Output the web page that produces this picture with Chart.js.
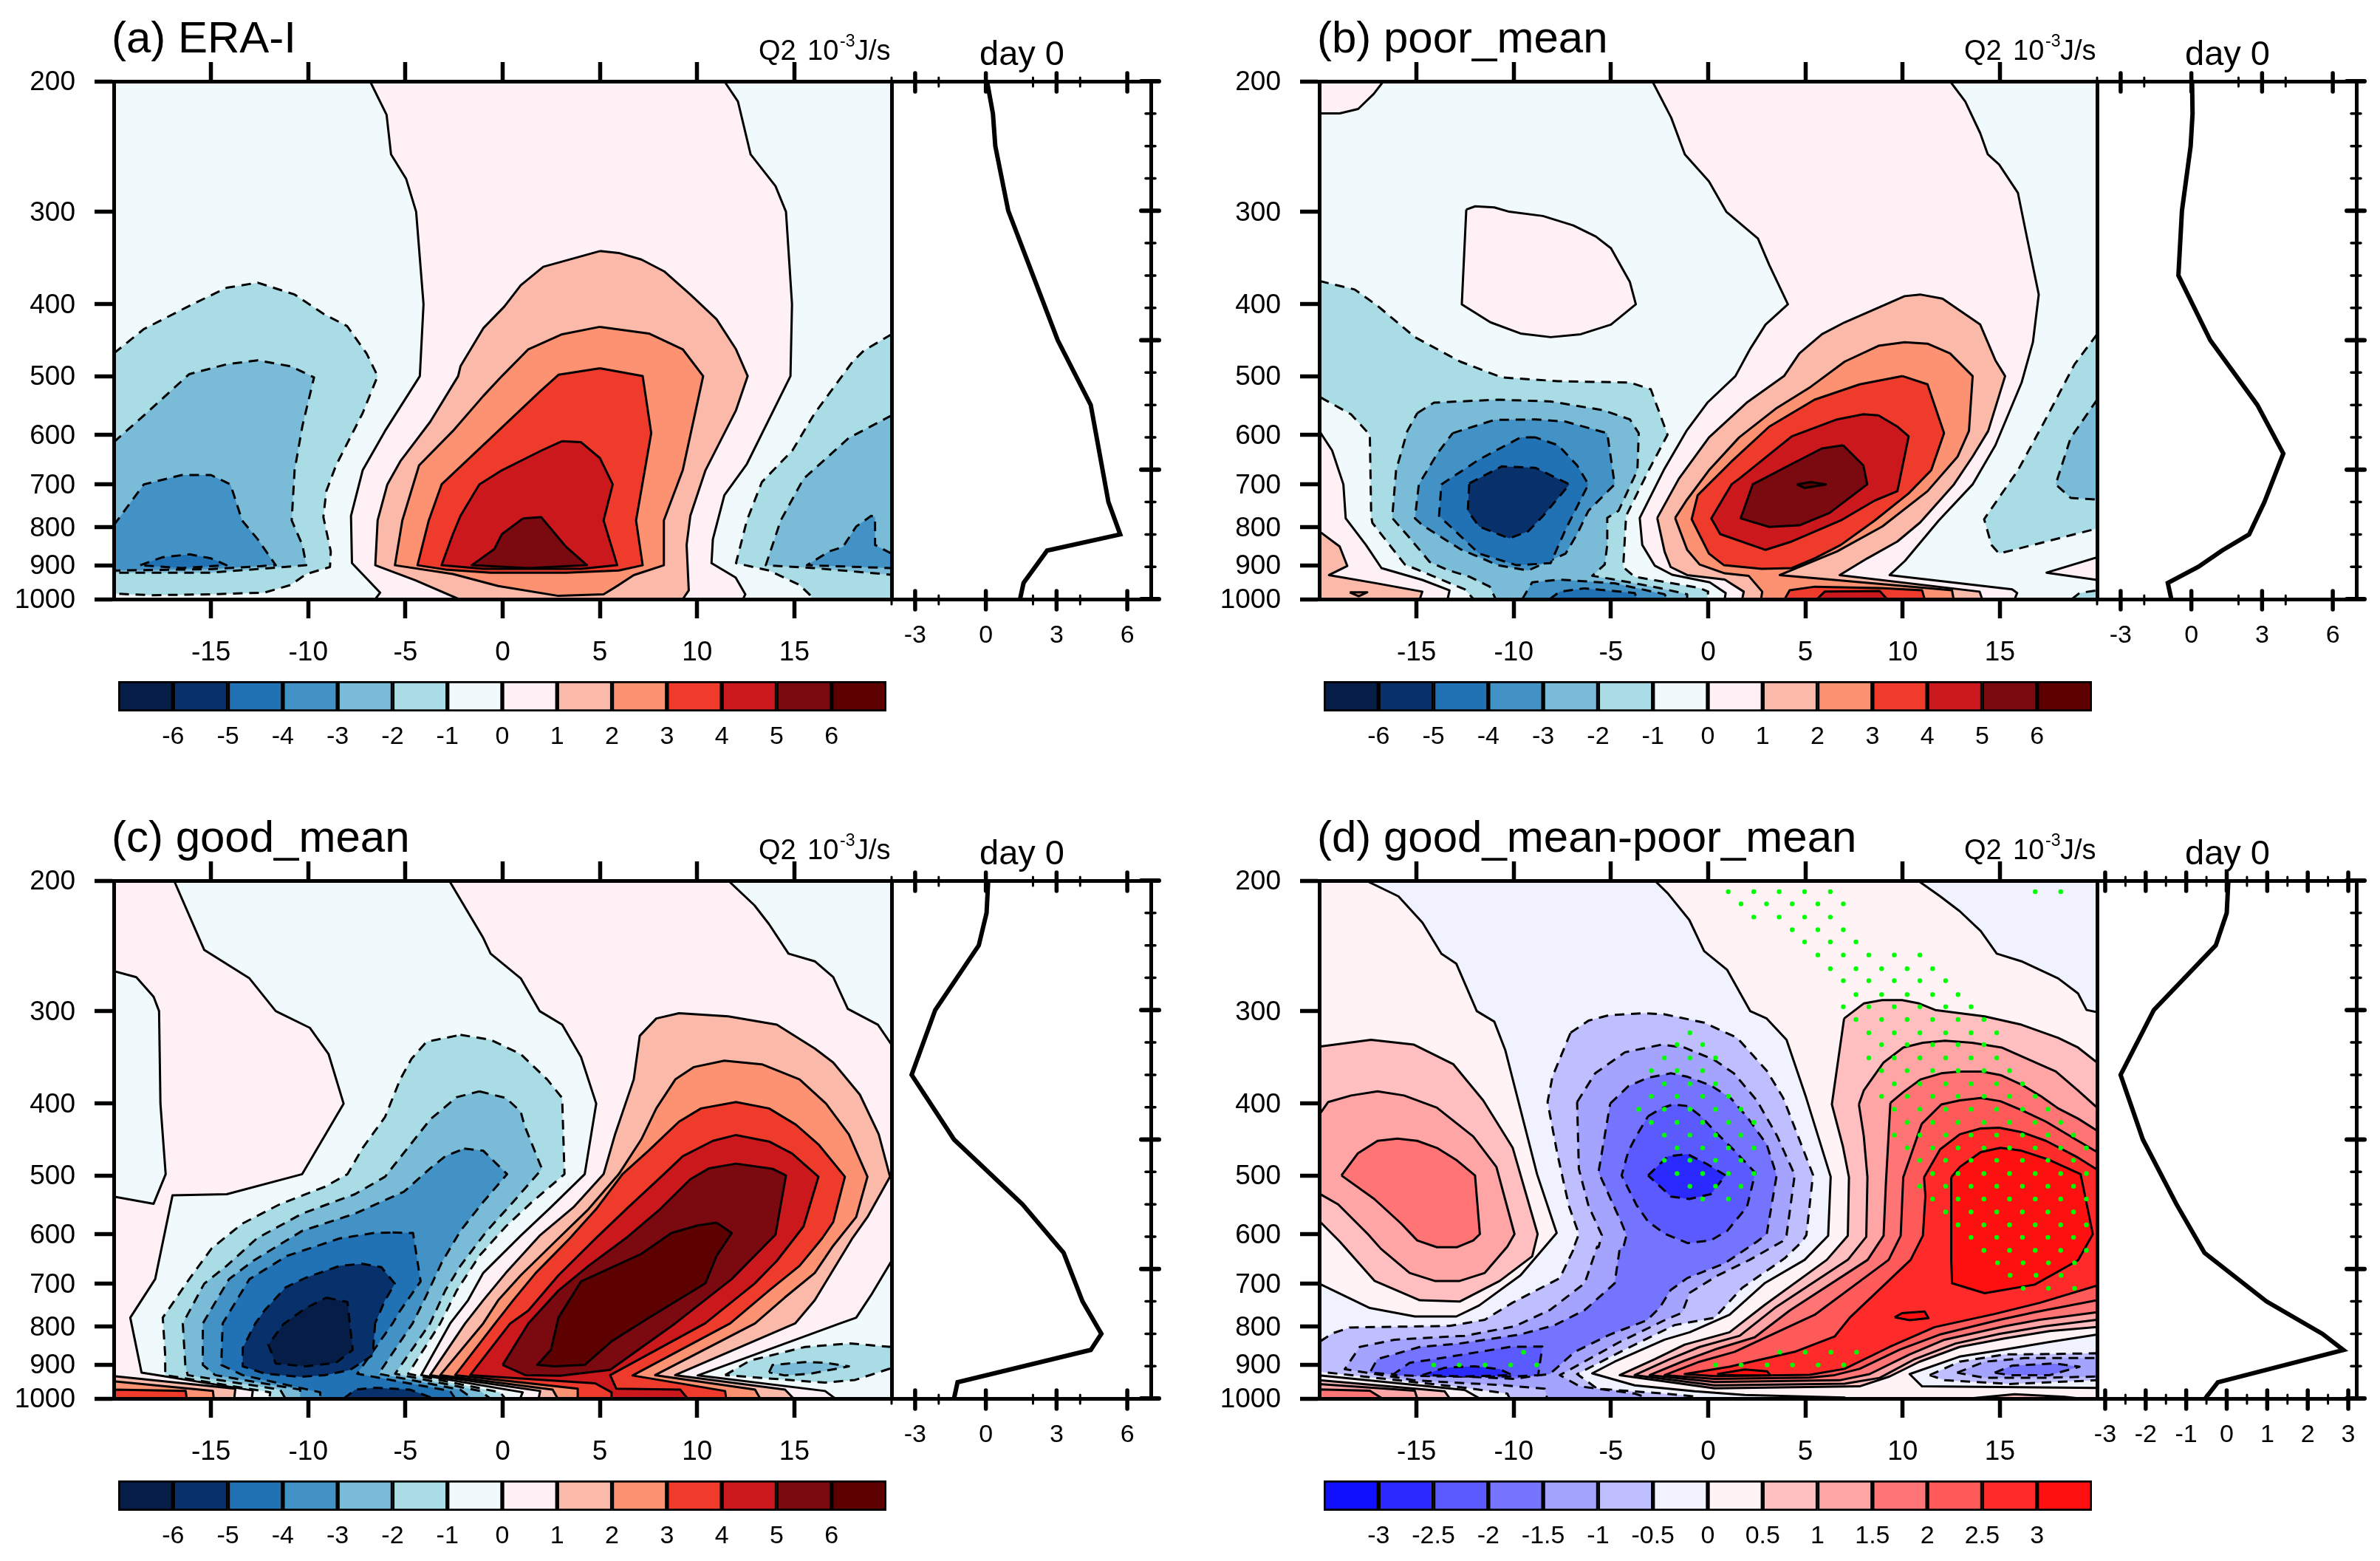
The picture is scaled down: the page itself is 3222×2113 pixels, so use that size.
<!DOCTYPE html>
<html><head><meta charset="utf-8"><style>html,body{margin:0;padding:0;background:#fff}canvas{position:absolute}</style>
<script src="https://cdn.jsdelivr.net/npm/chart.js@4"></script></head><body>
<script>
const dayTicks=[-15,-10,-5,0,5,10,15];
const pressureTicks=[200,300,400,500,600,700,800,900,1000];
const barLabels6=['-6','-5','-4','-3','-2','-1','0','1','2','3','4','5','6'];
const barLabels3=['-3','-2.5','-2','-1.5','-1','-0.5','0','0.5','1','1.5','2','2.5','3'];
const colorsRB=['#051d47','#08306b','#2171b5','#4292c6','#7abbd8','#aadce6','#f0fafd','#fff0f5','#fbb9a9','#fc9272','#ef3b2c','#cb181d','#7a0a10','#5c0000'];
const colorsBWR=['#1010ff','#2a2aff','#5a5aff','#7474ff','#a4a4ff','#bfbfff','#f0f3ff','#fff3f5','#ffbfc0','#ffa5a5','#ff7474','#ff5a5a','#ff2a2a','#ff1010'];

// profile panels: pressure levels and Q2 at day 0
const profLevA=[200,250,300,400,500,600,700,850,900,925,975,1000];
const profValA=[.05,.3,.4,.95,2,3.05,4.45,5.2,5.7,2.6,1.6,1.45];
const profLevB=[200,250,300,400,500,600,700,775,850,900,925,950,975,1000];
const profValB=[.03,.05,-.03,-.4,-.55,.8,2.8,3.9,3.1,2.45,1.3,.3,-1,-.85];
const profLevC=[200,250,300,400,500,600,700,775,850,900,925,975,1000];
const profValC=[.1,.03,-.3,-2.15,-3.15,-1.35,1.55,3.3,4.1,4.9,4.45,-1.2,-1.35];
const profLevD=[200,250,300,400,500,600,700,775,850,900,925,975,1000];
const profValD=[.04,0,-.27,-1.8,-2.62,-2.07,-1.24,-.55,.98,2.36,2.88,-.22,-.53];

// contour outlines as day,hPa pairs
const A_p0=[-6.82,200,-5.97,222,-5.74,251,-4.96,271,-4.45,300,-4.07,400,-4.26,500,-6.05,593,-7.2,670,-7.8,772,-7.75,894,-6.3,980,-6.55,1000,12.36,1000,12.48,985,11.98,935,10.74,894,10.81,830,11.4,724,12.56,657,14.8,500,14.88,400,14.57,300,14.03,277,12.75,251,12.1,213,11.4,200];
const A_p1=[5,339,5.97,341,7.13,348,8.3,361,9.65,388,11,419,12,460,12.6,500,12,556,10.43,670,9.65,772,9.46,845,9.57,973,9.26,1000,-2.25,1000,-4.5,943,-6.55,900,-6.43,783,-5.93,700,-5.27,652,-3.72,576,-2.29,500,-2.17,485,-1,431,.08,403,.93,377,2.09,356];
const A_p2=[5,429,7.52,438,9.26,460,10.31,500,9.26,670,8.29,783,8.29,900,6.74,928,5.97,957,5.19,985,2.87,990,-.23,960,-2.56,925,-5.54,900,-5.16,783,-4.3,660,-2.56,593,-1,532,-.04,500,1.32,460,3.06,439];
const A_p3=[5,488,7.2,500,7.64,597,6.86,783,7.2,900,5.97,915,3.26,921,-.62,921,-2.95,912,-4.38,900,-3.8,783,-3.14,700,-.23,593,1.9,525,2.87,498];
const A_p4=[3.06,612,4.03,614,5,645,5.66,700,5.19,783,5.89,900,4.03,910,-1,910,-3.14,900,-2.56,817,-2.17,772,-1.2,700,-.04,670,2,630];
const A_p5=[1.05,778,1.98,775,3.26,850,4.34,900,1.32,908,-1.59,900,-.43,856,-.04,817];
const A_n1=[-20,466,-18.45,432,-16.12,402,-14.2,380,-12.6,374,-10.7,388,-9.15,413,-8,428,-7,466,-6.43,500,-7.2,561,-8.57,660,-9.07,715,-9.22,775,-8.84,862,-8.88,905,-10.1,925,-10.9,957,-12.25,980,-15,985,-18.06,988,-20,983];
const A_n2=[-20,614,-18.45,565,-16.12,497,-14.2,482,-12.6,476,-10.9,485,-9.7,502,-10.3,584,-10.7,670,-10.85,783,-10.3,845,-10.1,900,-15,921,-20,921];
const A_n3=[-20,795,-18.45,700,-16.5,680,-15,680,-14,700,-13.4,783,-12.6,830,-11.67,900,-15,911,-20,915];
const A_n4=[-18.64,900,-17.5,878,-16.1,870,-15,881,-14.2,900,-16.5,908];
const A_rn1=[20,439,18.57,462,18,478,16.05,561,14.9,630,13.33,695,12.56,783,12,894,13.7,915,15.27,957,15.85,990,15.85,1000,20,1000];
const A_rn2=[20,565,17.8,606,15.47,688,14.3,783,13.53,900,16,908,20,927];
const A_rn3=[20,868,19.15,845,19.15,775,18.95,772,18.18,798,17.5,850,16.8,862,15.65,900,20,908];

const B_p0a=[-20,200,-16.7,200,-17.2,208,-18,218,-18.95,221,-20,221];
const B_p0b=[-12.44,298,-11.98,295,-11,296,-10.23,300,-8.5,304,-6.94,313,-5.78,324,-5,336,-4.03,373,-3.72,400,-5,426,-6.55,439,-8.1,443,-9.65,438,-11.2,423,-12.67,400];
const B_p0c=[-2.87,200,-1.9,224,-1.2,251,.04,273,.93,300,2.56,326,3.14,354,4.1,400,2.95,426,2.17,459,1.4,500,-.04,543,-1.12,593,-2.29,670,-3.52,777,-3.39,845,-2.75,901,-1.85,927,.08,949,.9,981,.85,1000,15.76,1000,15.89,981,15.63,970,9.33,928,10.12,888,11.86,783,13.6,700,14.77,620,16.12,510,16.7,450,17,388,16.32,318,15.93,283,14.96,259,14.38,251,13.99,235,13.22,213,12.44,200];
const B_p0d=[-20,593,-19.34,630,-18.76,700,-18.64,778,-17.6,845,-16.8,908,-14.7,942,-13.3,973,-13.4,1000,-20,1000];
const B_p0e=[20,878,17.4,921,20,942];
const B_p1=[-2.62,777,-2.24,863,-1.93,905,-1.08,928,.85,941,1.83,977,1.75,1000,14.09,1000,13.96,977,6.76,928,8.18,881,9.73,836,10.9,788,12.64,700,13.6,642,14.4,593,15.27,500,14.77,476,13.99,426,12.05,393,10.9,388,10.1,390,9.15,400,7.02,423,5.85,439,4.69,466,3.9,500,1.98,543,.04,605,-1.51,688];
const B_p1b=[-14.83,1000,-14.7,977,-17.15,951,-19.5,928,-18.56,902,-18.95,849,-20,810,-20,1000];
const B_p2=[-1.7,777,-1.08,858,-.44,898,.85,923,2.08,930,2.78,977,2.72,1000,12.62,1000,12.54,973,3.68,928,6.63,862,8.95,798,11.28,715,12.83,642,13.41,593,13.6,500,12.44,466,11.28,452,10.1,450,8.76,455,7.02,478,5.27,517,3.53,552,1.59,605,.04,670,-1.12,736];
const B_p2b=[-18.43,979,-17.53,979,-17.97,991];
const B_p3=[10,500,11.28,513,12.13,597,11.47,670,10.31,720,8.57,783,6.82,845,5.47,881,4.3,908,2.75,910,.81,900,.04,868,-.85,780,-.54,724,1.2,652,3.14,585,5.47,538,7.79,513];
const B_p3b=[3.93,1000,4.19,973,5.48,962,8.82,966,11,973,11.13,1000];
const B_p4=[8.76,565,7.98,563,6.63,572,4.3,603,1.59,688,1.2,700,.16,778,.62,817,2.95,858,4.3,836,6.82,783,8.57,736,9.73,715,10.31,603,9.73,585];
const B_p4b=[5.6,1000,5.99,977,8.82,975,9.2,1000];
const B_p5=[6.94,620,7.98,660,8.18,700,6.24,765,4.69,795,3.14,799,1.67,778,2.29,700,4.3,657,5.85,626];
const B_p6=[4.57,700,5.27,695,6.05,700,4.96,708];
const B_n1=[-20,372,-18.18,382,-17,402,-15.08,443,-12.75,478,-10.62,502,-7.71,508,-4.03,510,-2.95,521,-2.09,600,-3.06,670,-4.22,772,-4.37,905,-3.78,933,-2.24,948,-.44,966,0,977,-.05,1000,-12.06,1000,-12.52,970,-14.06,933,-15.6,898,-17.27,789,-17.33,772,-17.4,600,-18.37,563,-20,533];
const B_n2=[-14.96,561,-14.1,543,-10.81,538,-8.1,541,-5.39,556,-4.03,572,-3.57,597,-3.64,670,-4.61,760,-5.19,777,-5.19,845,-5.32,898,-5.96,930,-4.81,941,-2.49,966,-1.08,985,-1.08,1000,-10.93,1000,-11.23,962,-12.26,933,-13.42,913,-14.32,891,-15.47,820,-16.25,777,-16.05,670,-15.47,593];
const B_n3=[-13.14,597,-11,573,-8.88,572,-7.33,576,-5.19,597,-4.81,700,-6.16,760,-6.74,817,-7.33,868,-9.26,915,-10.81,900,-12.75,856,-14.69,795,-15.08,778,-14.88,700,-13.91,635];
const B_n3b=[-9.56,1000,-9.05,949,-7.63,941,-4.81,952,-2.24,985,-2.11,1000];
const B_n4=[-8.88,605,-9.65,605,-11.78,648,-13.72,700,-13.84,772,-11.78,868,-9.84,900,-8.1,894,-7.33,805,-6.16,700,-6.74,660,-7.71,620];
const B_n4b=[-8.15,1000,-7.63,977,-6.35,967,-3.78,981,-3.65,1000];
const B_n5=[-12.29,698,-10.62,662,-8.88,665,-7.13,700,-8.49,772,-9.26,810,-10.23,828,-11.78,798,-12.36,760];
const B_rn1=[20,439,18.84,482,17.29,576,15.93,670,14.19,780,14.57,845,14.96,868,20,803];
const B_rn2=[20,538,18.64,606,17.87,700,18.64,730,20,734];
const B_rn1b=[18.7,1000,19.1,981,20,973,20,1000];

const C_p0a=[-16.9,200,-15.35,248,-13.02,271,-11.67,300,-9.92,316,-8.95,343,-8.18,400,-10.31,498,-14.19,530,-16.98,532,-17.87,690,-19.15,778,-18.57,923,-12.85,975,-12.9,1000,-20,1000,-20,200];
const C_hole=[-20,265,-18.84,270,-17.95,287,-17.67,300,-17.6,400,-17.33,498,-17.95,546,-20,534];
const C_p0b=[-2.75,200,-1,239,-.62,251,.93,271,1.9,300,3.06,313,4.03,346,4.81,400,4.22,498,2.48,552,.93,603,-1,677,-1.78,737,-2.7,792,-4.19,930,1.03,981,.9,1000,17.1,1000,16.58,977,10.03,931,17.35,792,18.18,778,18.95,725,20,652,20,333,19.3,313,17.75,298,17,270,16.05,257,14.7,251,13.7,229,12.95,216,11.6,200];
const C_p1=[14.96,1000,14.52,973,8.87,930,15.04,792,16.05,737,18,607,18.76,569,19.92,502,19.34,440,18.37,389,17,352,16.05,337,14.1,313,11.6,305,9.07,302,7.9,307,7.05,324,6.74,371,5.78,440,5.19,498,3.64,552,1.9,603,.16,677,-1,737,-1.93,792,-3.73,930,1.93,977,1.85,1000];
const C_p2=[13.24,1000,12.98,973,7.84,930,12.98,792,14.5,731,16.05,677,17,622,18.18,569,18.76,502,17.8,440,16.63,400,15.27,371,13.33,354,11.4,350,9.84,357,8.88,371,7.9,406,7.13,447,5.97,498,4.42,555,2.87,608,.93,682,-.23,737,-1,792,-3.21,930,2.57,973,2.83,1000];
const C_p3=[11.49,1000,11.44,977,6.68,931,11.7,792,13.7,715,15.27,662,16.43,608,17,578,17.6,502,16.24,454,15.08,427,13.7,406,12,398,10.2,406,9.07,423,7.5,463,6.16,498,4.81,555,3.45,608,1.7,677,.54,737,-.39,792,-2.44,930,3.86,970,3.86,1000];
const C_p4=[9.51,1000,9.13,973,5.84,970,5.53,930,10.41,792,12.95,700,14.1,652,15.47,586,16.24,502,14.88,467,13.7,450,12,441,10.81,449,9.26,471,8.29,498,6.36,555,4.81,607,2.87,682,1.32,761,.39,792,-1.67,930,4.76,954,5.6,981,5.6,1000];
const C_p5=[0,901,1.16,930,2.96,932,5.53,915,8.87,792,11.78,690,14.03,601,14.57,500,13.9,490,12,482,10.62,489,9.65,506,8.1,555,6.36,607,4.42,662,2.87,715,1.32,792];
const C_p6=[11,579,10.04,584,8.68,598,7.13,638,4.03,695,2.87,778,2.48,860,1.78,901,2.67,905,4.22,901,5.58,838,7.52,778,10.43,699,11,642,11.78,598];
const C_bl1=[-20,933,-13.75,970,-13.8,1000,-20,1000];
const C_bl2=[-20,948,-14.9,977,-14.86,1000,-20,1000];
const C_bl3=[-20,973,-16.3,977,-16.25,1000,-20,1000];
const C_n1=[-2.17,323,-.62,328,.93,343,2.29,371,3.06,393,3.18,498,1.51,543,.16,586,-1.2,642,-2.36,715,-3.21,792,-4.86,926,-.13,981,.13,1000,-12,1000,-11.95,981,-17.35,930,-17.36,870,-17.48,778,-16.12,690,-14.96,627,-13.4,581,-11.47,547,-9.15,518,-7.98,498,-7.2,459,-6.05,417,-5.27,371,-4.69,348,-3.91,330];
const C_n2=[-1.2,385,.16,393,.93,410,1.12,428,2.02,490,.54,543,-.81,594,-2.17,662,-2.95,715,-3.73,792,-5.53,926,-1.16,977,-.64,1000,-11.18,1000,-11.44,973,-16.2,930,-16.32,901,-16.45,792,-15.35,700,-14.19,662,-12.64,608,-10.31,563,-7.6,530,-6.05,502,-4.88,459,-3.72,420,-2.36,392];
const C_n3=[-1.98,460,-1,463,.23,498,-1,543,-2.17,594,-3.14,656,-3.91,725,-4.63,792,-6.38,926,-2.19,973,-1.54,1000,-10.41,1000,-10.41,973,-14.78,930,-15.42,901,-15.42,792,-14.07,690,-12.83,652,-10.31,594,-7.6,563,-5.08,526,-3.72,489,-2.95,471];
const C_n4=[-5.66,597,-4.61,598,-4.22,695,-5.27,761,-5.66,792,-7.48,926,-2.7,977,-2.44,1000,-9.38,1000,-9.38,981,-13.37,930,-14.47,901,-14.4,792,-13.02,690,-11.09,642,-8.37,608,-6.63,598];
const C_n5=[-6.56,792,-6.68,874,-7.84,915,-9.13,930,-10.41,935,-12.21,926,-13.37,905,-13.37,855,-12.72,792,-12.25,761,-11.16,708,-10.12,687,-8.37,662,-7.2,658,-6.24,665,-5.54,700,-6.05,737];
const C_n6=[-9.07,731,-7.98,741,-7.71,860,-8.57,895,-10.12,905,-11.67,897,-12.05,846,-11.28,794,-10.12,755];
const C_n5b=[-8.17,1000,-7.58,973,-6.56,967,-4.76,973,-3.73,996,-3.73,1000];
const C_rn1=[11.44,930,12.72,889,15.55,852,17.87,843,20,852,20,910,18.12,944,16.58,952,14,941];
const C_rn2=[13.7,922,13.88,901,15.55,893,16.58,895,17.81,905,15.81,926,14.52,931];

const D_p0a=[-17.6,200,-15.93,210,-14.69,228,-13.72,251,-12.95,259,-11.9,300,-11,310,-10.43,339,-9.73,400,-8.8,498,-7.79,598,-9.65,682,-11.78,749,-12.95,775,-15.08,775,-17.4,755,-20,700,-20,200];
const D_p05a=[-20,335,-17.34,328,-15.13,333,-13.1,354,-11.57,396,-10.05,459,-8.77,600,-9.05,643,-10.72,694,-12.78,740,-14.83,737,-17.15,694,-18.95,614,-20,576];
const D_p1a=[-20,414,-19.54,398,-18.36,390,-17,385,-15.64,390,-13.95,405,-12.08,443,-10.89,487,-9.96,600,-10.33,624,-11.49,677,-12.78,694,-14.06,694,-15.35,677,-16.83,628,-17.5,600,-19.03,547,-20,529];
const D_p15a=[-18.86,500,-18.02,467,-17,449,-15.98,446,-14.96,449,-13.95,459,-12.93,477,-11.99,500,-11.74,600,-12.08,612,-12.93,625,-13.95,625,-14.96,612,-15.81,580,-17.17,538];
const D_p0b=[-2.75,200,-2.08,208,-.97,226,-.21,249,.98,264,2.16,300,3.01,307,4.03,328,5.03,392,6.3,502,6.17,603,4.96,650,2.9,699,1.1,771,-.95,814,-2.24,833,-4.81,892,-5.96,925,-3.78,960,-.69,978,1.88,989,7.02,997,7.02,1000,20,1000,20,968,11,963,10.36,927,12.93,878,15.24,859,17.56,839,20,820,20,301,19.46,299,19.02,284,18,271,16.11,257,14.84,251,14.02,234,12.94,220,11.93,210,10.79,200];
const D_p05b=[6.99,307,8,293,8.95,290,9.97,290,10.85,293,11.68,299,14.21,305,16.11,313,18,326,19.02,336,20,352,20,801,17.56,811,15.24,830,12.93,852,10.87,892,9.33,934,7.79,963,.33,969,-4.55,930,-2.75,885,-1.21,846,1.1,814,2.9,748,6.1,650,7.18,603,7.24,503,6.93,457,6.36,401];
const D_p1b=[7.75,401,8,384,9.02,352,10.03,336,11.04,331,12.18,329,13.57,331,15.09,336,16.61,350,17.88,362,19.02,384,20,405,20,783,17.3,799,14.99,818,12.72,843,10.62,885,8.82,938,7.02,955,.33,960,-3.78,930,-1.98,885,-.44,852,1.62,823,3.42,755,7.18,650,8.13,605,8.19,503,8,442];
const D_p15b=[9.37,399,10.03,386,10.92,371,11.99,364,12.94,362,14.08,362,15.03,366,16.11,377,17.12,391,18,406,19.02,419,20,435,20,765,17.04,783,15.24,799,12.16,833,10.36,872,8.3,927,6.76,945,.33,950,-3.01,930,-1.21,889,.33,859,2.39,827,4.19,761,8.2,650,9.02,603,9.14,512];
const D_p2b=[10.98,426,11.99,401,12.94,396,14.02,393,15.03,397,16.11,408,17.37,423,19.02,449,20,465,20,737,16.79,765,14.99,783,11.9,820,9.85,859,7.79,912,6.5,930,5.22,937,.33,941,-2.24,930,-.44,892,1.36,865,5.48,771,9.28,650,9.9,603,10.03,503];
const D_p25b=[11.1,503,11.93,461,12.94,440,14.02,432,14.97,431,16.11,437,17.37,449,19.02,473,20,491,20,704,17.04,743,14.73,769,11.65,801,9.33,852,7.02,912,5.22,929,.33,933,-1.21,927,1.1,906,4.45,865,6.5,825,7.28,778,10.41,650,11.04,603,11.17,533];
const D_p3b=[12.5,503,12.94,487,14.02,465,15.03,459,16.11,463,17.5,476,19.15,498,19.78,600,19.02,651,16.79,702,14.22,721,12.54,699,12.5,650];
const D_p3c=[9.59,777,9.97,767,11.13,763,11.33,779,10.36,784];
const D_p3d=[.46,927,1.88,914,3.03,919,3.21,931,1.36,931];
const D_bl0=[-20,931,-12.52,974,-11.75,1000,-20,1000];
const D_bl05=[-20,945,-13.55,978,-13.29,1000,-20,1000];
const D_bl1=[-20,956,-15.09,976,-14.96,1000,-20,1000];
const D_bl15=[-20,972,-17.4,976,-16.76,1000,-20,1000];
const D_br05=[13.44,1000,15.76,987,18.33,995,19.1,1000];
const D_n05=[-7.08,321,-6.15,309,-5.13,304,-3.26,302,-2.25,303,-.21,311,1.49,326,3.01,361,3.86,393,5.39,499,5.05,602,4.83,614,3.93,647,1.75,709,.33,778,-1.72,796,-4.29,859,-6.74,927,-5.71,970,-2.24,985,-.82,993,-.69,1000,-10.21,1000,-10.33,985,-12.52,967,-20,920,-20,839,-19.33,817,-18.43,802,-13.29,798,-11.49,783,-10.08,743,-7.63,688,-6.86,624,-6.91,625,-6.65,600,-7.16,550,-7.76,467,-8.26,398,-8.01,368];
const D_n1=[-6.74,398,-5.81,364,-4.28,341,-2.41,333,-1.23,336,.3,349,1.32,364,2.5,396,3.52,441,4.45,499,4.03,602,3.8,614,2.13,650,.46,683,-.95,720,-1.34,766,-2.24,784,-4.55,839,-6.61,899,-7.63,930,-6.61,963,-3.78,985,-3.01,1000,-8.28,1000,-8.41,970,-10.46,960,-15.09,945,-18.69,913,-17.92,852,-16.12,833,-12.52,823,-9.95,799,-8.15,760,-6.35,699,-5.71,624,-5.64,625,-5.47,602,-6.15,550,-6.65,490];
const D_n15=[-5.04,400,-4.11,379,-3.09,369,-1.91,364,-1.06,368,.13,378,1.15,393,2,417,3.01,454,3.52,500,3.01,600,2.52,614,.85,657,-1.08,688,-1.93,714,-2.49,754,-3.14,784,-5.06,820,-6.86,865,-8.15,927,-8.66,930,-9.95,941,-12.52,934,-16.38,927,-17.4,923,-17.02,885,-14.83,852,-12.78,843,-9.69,820,-7.89,796,-6.35,760,-4.81,699,-4.55,628,-4.36,625,-4.2,602,-4.45,580,-5.64,495];
const D_n2=[-3.09,416,-2.41,406,-1.82,401,-1.06,403,-.38,416,.38,437,1.32,462,2.42,496,2,551,.98,594,.13,612,-1.06,617,-2.25,599,-3.09,577,-3.69,548,-4.45,500,-4.11,464,-3.69,442];
const D_n25=[-3.09,500,-2.07,471,-1.06,468,-.04,483,.89,500,.13,530,-.97,538,-1.91,534];
const D_n2b=[-16.25,930,-15.35,895,-14.06,885,-11.75,865,-10.21,852,-8.53,851,-8.74,930,-9.95,934,-13.55,934];
const D_n25b=[-14.7,930,-13.55,909,-12,905,-10.72,913,-10.08,930,-12.52,934];
const D_rn05=[11.39,930,12.93,892,15.24,872,17.56,871,20,869,20,945,15.5,956,12.16,945];
const D_rn1=[12.8,923,14.22,892,16.27,882,20,882,20,934,17.04,938,14.22,938];
const D_rn15=[14.73,923,15.63,903,17.81,897,19.1,906,17.56,930,15.5,930];

// significance stipple in panel d: [hPa, [days]]
const D_dots=[[207,[1.03,2.34,3.65,4.96,6.28,16.82,18.13]],[215,[1.69,3,4.32,5.64,6.95]],[224,[2.34,3.65,4.96,6.28]],[233,[4.32,5.64,6.95]],[242,[4.96,6.28,7.6]],[252,[5.64,6.95,8.26,9.57,10.89]],[263,[6.28,7.6,8.92,10.23,11.54]],[273,[6.95,8.26,9.57,10.89,12.21]],[285,[7.6,8.92,10.23,11.54,12.85]],[296,[6.95,8.26,9.57,10.89,12.21,13.52]],[308,[7.6,8.92,10.23,11.54,12.85,14.18]],[321,[-.94,8.26,9.57,10.89,12.21,13.52,14.84]],[333,[-1.6,-.28,8.92,10.23,11.54,12.85,14.18]],[347,[-2.25,-.94,.38,8.26,9.57,10.89,12.21,13.52,14.84]],[361,[-2.92,-1.6,-.28,8.92,10.23,11.54,12.85,14.18,15.5]],[376,[-2.25,-.94,.38,9.57,10.89,12.21,13.52,14.84,16.16]],[391,[-2.92,-1.6,-.28,1.04,8.92,10.23,11.54,12.85,14.18,15.5,16.82]],[407,[-3.57,-2.25,-.94,.38,1.69,9.57,10.89,12.21,13.52,14.84,16.16,17.47]],[424,[-2.92,-1.6,-.28,1.04,2.35,10.23,11.54,12.85,14.18,15.5,16.82,18.13]],[441,[-2.25,-.94,.38,1.69,9.57,10.89,12.21,13.52,14.84,16.16,17.47,18.79]],[459,[-1.6,-.28,1.04,2.35,10.23,11.54,12.85,14.18,15.5,16.82,18.13,19.45]],[477,[-2.25,-.94,.38,1.69,10.89,12.21,13.52,14.84,16.16,17.47,18.79]],[497,[-1.6,-.28,1.04,2.35,11.54,12.85,14.18,15.5,16.82,18.13,19.45]],[517,[-.94,.38,1.69,10.89,12.21,13.52,14.84,16.16,17.47,18.79]],[538,[-.28,1.04,11.54,12.85,14.18,15.5,16.82,18.13,19.45]],[560,[12.21,13.52,14.84,16.16,17.47,18.79]],[583,[12.85,14.18,15.5,16.82,18.13,19.45]],[606,[13.52,14.84,16.16,17.47,18.79]],[631,[14.18,15.5,16.82,18.13,19.45]],[656,[14.88,16.2,17.5,18.84]],[682,[15.53,16.86,18.15]],[710,[16.2,17.5,18.84]],[866,[-9.49,3.68,4.99,6.32,7.63]],[901,[-14.11,-12.8,-11.47,-10.15,-8.82,.39,1.7,3.03,4.34,5.66,6.97]]];

// paint order, [colour band, outline]
const layersA=[[7,A_p0],[8,A_p1],[9,A_p2],[10,A_p3],[11,A_p4],[12,A_p5],[5,A_n1],[4,A_n2],[3,A_n3],[2,A_n4],[5,A_rn1],[4,A_rn2],[3,A_rn3]];
const layersB=[[7,B_p0a],[7,B_p0b],[7,B_p0c],[7,B_p0d],[7,B_p0e],[8,B_p1b],[9,B_p2b],[8,B_p1],[9,B_p2],[10,B_p3],[10,B_p3b],[11,B_p4],[11,B_p4b],[12,B_p5],[13,B_p6],[5,B_n1],[4,B_n2],[3,B_n3],[3,B_n3b],[2,B_n4],[2,B_n4b],[1,B_n5],[5,B_rn1],[4,B_rn2],[5,B_rn1b]];
const layersC=[[7,C_p0a],[6,C_hole],[7,C_p0b],[8,C_p1],[9,C_p2],[10,C_p3],[11,C_p4],[12,C_p5],[13,C_p6],[8,C_bl1],[9,C_bl2],[10,C_bl3],[5,C_n1],[4,C_n2],[3,C_n3],[2,C_n4],[1,C_n5],[0,C_n6],[1,C_n5b],[5,C_rn1],[4,C_rn2]];
const layersD=[[7,D_p0a],[8,D_p05a],[9,D_p1a],[10,D_p15a],[7,D_p0b],[8,D_p05b],[9,D_p1b],[10,D_p15b],[11,D_p2b],[12,D_p25b],[13,D_p3b],[13,D_p3c],[13,D_p3d],[8,D_br05],[7,D_bl0],[8,D_bl05],[9,D_bl1],[10,D_bl15],[5,D_n05],[4,D_n1],[3,D_n15],[2,D_n2],[1,D_n25],[2,D_n2b],[1,D_n25b],[5,D_rn05],[4,D_rn1],[3,D_rn15]];

const FONT='"Liberation Sans"';
const PW=1053,PH=701,PROFW=351;
function mk(left,top,w,h,cfg){const c=document.createElement('canvas');c.width=w;c.height=h;c.style.left=left+'px';c.style.top=top+'px';c.style.width=w+'px';c.style.height=h+'px';document.body.appendChild(c);cfg.options=Object.assign({responsive:false,animation:false,devicePixelRatio:1},cfg.options);return new Chart(c.getContext('2d'),cfg);}
function pts(a){const r=[];for(let i=0;i<a.length;i+=2)r.push({x:a[i],y:a[i+1]});r.push({x:a[0],y:a[1]});return r;}
const domainBox=[-20,200,20,200,20,1000,-20,1000];

function mainChart(px,py,colors,layers,dots,title){
 const padL=150,padT=105,padB=110,padR=4;
 const ds=[];
 ds.push({data:pts(domainBox),showLine:true,fill:'shape',backgroundColor:colors[6],borderColor:'rgba(0,0,0,0)',borderWidth:0,pointRadius:0});
 layers.forEach(l=>ds.push({data:pts(l[1]),showLine:true,fill:'shape',backgroundColor:colors[l[0]],borderColor:'#000',borderWidth:3,borderDash:l[0]<6?[13,9]:[],borderJoinStyle:'round',pointRadius:0,tension:0}));
 if(dots){const d=[];dots.forEach(r=>r[1].forEach(x=>d.push({x:x,y:r[0]})));ds.push({data:d,showLine:false,pointRadius:3.2,pointBorderWidth:0,pointBackgroundColor:'#00ff00',clip:false});}
 ds.reverse();
 const xT=(s)=>{s.ticks=dayTicks.map(v=>({value:v}));};
 const tk={display:true,drawOnChartArea:false,drawTicks:true,tickLength:26,tickWidth:5.5,tickColor:'#000',z:3};
 const titlePlugin={id:'t',afterDraw(ch){const c=ch.ctx,a=ch.chartArea;c.save();c.fillStyle='#000';c.textBaseline='alphabetic';c.textAlign='left';
   c.font='60px '+FONT;c.fillText(title,a.left-3,a.top-39);
   const R=a.right;c.font='38px '+FONT;c.fillText('Q2',R-180,a.top-29);c.fillText('10',R-114,a.top-29);c.fillText('J/s',R-50,a.top-29);
   c.font='23px '+FONT;c.fillText('-3',R-70,a.top-47);c.restore();}};
 return mk(px-padL,py-padT,PW+padL+padR,PH+padT+padB,{type:'scatter',data:{datasets:ds},plugins:[titlePlugin],options:{layout:{padding:{right:padR}},plugins:{legend:{display:false},tooltip:{enabled:false}},
  scales:{
   x:{type:'linear',position:'bottom',min:-20,max:20,afterBuildTicks:xT,afterFit:s=>{s.height=padB;s.paddingLeft=0;s.paddingRight=0},grid:tk,border:{display:true,color:'#000',width:5,z:3},ticks:{autoSkip:false,maxRotation:0,padding:25,color:'#000',font:{family:FONT,size:37},callback:v=>String(v)}},
   xt:{type:'linear',position:'top',min:-20,max:20,afterBuildTicks:xT,afterFit:s=>{s.height=padT;s.paddingLeft=0;s.paddingRight=0},grid:tk,border:{display:true,color:'#000',width:5,z:3},ticks:{display:false,autoSkip:false}},
   y:{type:'logarithmic',position:'left',min:200,max:1000,reverse:true,afterBuildTicks:s=>{s.ticks=pressureTicks.map(v=>({value:v}))},afterFit:s=>{s.width=padL;s.paddingTop=0;s.paddingBottom=0},grid:tk,border:{display:true,color:'#000',width:5,z:3},ticks:{autoSkip:false,padding:26,labelOffset:2,color:'#000',font:{family:FONT,size:37},callback:v=>String(v)}}
  }}});
}

function profileChart(px,py,lev,val,xmin,xmax,majors,minors){
 const padL=10,padT=60,padB=90,padR=20;
 const data=lev.map((p,i)=>({x:val[i],y:p}));
 const right=[250,300,350,450,500,550,650,700,750,850,900,950],rightMajor=[200,400,600,800,1000];
 const plug={id:'cross',afterDraw(ch){const c=ch.ctx,a=ch.chartArea,X=ch.scales.x,Y=ch.scales.y;c.save();c.strokeStyle='#000';c.lineCap='round';
   const v=(xx,y1,y2,w)=>{c.lineWidth=w;c.beginPath();c.moveTo(xx,y1);c.lineTo(xx,y2);c.stroke();};
   const h=(yy,x1,x2,w)=>{c.lineWidth=w;c.beginPath();c.moveTo(x1,yy);c.lineTo(x2,yy);c.stroke();};
   majors.forEach(t=>{const q=X.getPixelForValue(t);v(q,a.top-11,a.top+14,5.5);v(q,a.bottom-11,a.bottom+14,5.5);});
   minors.forEach(t=>{const q=X.getPixelForValue(t);v(q,a.top-5,a.top+7,3);v(q,a.bottom-5,a.bottom+7,3);});
   rightMajor.forEach(t=>h(Y.getPixelForValue(t),a.right-13,a.right+11,6));
   right.forEach(t=>h(Y.getPixelForValue(t),a.right-7,a.right+6,3.5));
   c.fillStyle='#000';c.font='47px '+FONT;c.textAlign='center';c.textBaseline='alphabetic';c.fillText('day 0',(a.left+a.right)/2+1,a.top-22);c.restore();}};
 const nt={display:false,drawTicks:false,drawOnChartArea:false};
 return mk(px-padL,py-padT,PROFW+padL+padR,PH+padT+padB,{type:'scatter',data:{datasets:[{data:data,showLine:true,borderColor:'#000',borderWidth:6,pointRadius:0,tension:0,borderJoinStyle:'miter',fill:false,clip:false}]},plugins:[plug],options:{layout:{padding:0},plugins:{legend:{display:false},tooltip:{enabled:false}},
  scales:{
   x:{type:'linear',position:'bottom',min:xmin,max:xmax,afterBuildTicks:s=>{s.ticks=majors.map(v=>({value:v}))},afterFit:s=>{s.height=padB;s.paddingLeft=0;s.paddingRight=0},grid:nt,border:{display:true,color:'#000',width:5,z:3},ticks:{autoSkip:false,maxRotation:0,padding:29,color:'#000',font:{family:FONT,size:34},callback:v=>String(v)}},
   xt:{type:'linear',position:'top',min:xmin,max:xmax,afterFit:s=>{s.height=padT;s.paddingLeft=0;s.paddingRight=0},grid:nt,border:{display:true,color:'#000',width:5,z:3},ticks:{display:false}},
   y:{type:'linear',position:'left',min:200,max:1000,reverse:true,afterFit:s=>{s.width=padL;s.paddingTop=0;s.paddingBottom=0},grid:nt,border:{display:true,color:'#000',width:5,z:3},ticks:{display:false}},
   yr:{type:'linear',position:'right',min:200,max:1000,reverse:true,afterFit:s=>{s.width=padR;s.paddingTop=0;s.paddingBottom=0},grid:nt,border:{display:true,color:'#000',width:5,z:3},ticks:{display:false}}
  }}});
}

function colorBar(bx,by,colors,labels){
 const W=1040,H=41,padS=4,padB=70;
 const ds=colors.map(c=>({data:[1],backgroundColor:c,borderColor:'#000',borderWidth:3,borderSkipped:false,barPercentage:1,categoryPercentage:1}));
 const vals=[1,2,3,4,5,6,7,8,9,10,11,12,13];
 return mk(bx-padS,by-padS,W+2*padS,H+padS+padB,{type:'bar',data:{labels:[''],datasets:ds},options:{indexAxis:'y',layout:{padding:{left:padS,right:padS,top:padS}},plugins:{legend:{display:false},tooltip:{enabled:false}},
  scales:{
   x:{stacked:true,type:'linear',position:'bottom',min:0,max:14,afterBuildTicks:s=>{s.ticks=vals.map(v=>({value:v}))},afterFit:s=>{s.height=padB;s.paddingLeft=0;s.paddingRight=0},grid:{display:false},border:{display:false},ticks:{autoSkip:false,maxRotation:0,padding:6,color:'#000',font:{family:FONT,size:34},callback:(v)=>labels[v-1]}},
   y:{stacked:true,display:false}
  }}});
}

const XL=154,XR=1786,YT=109.5,YB=1192;
mainChart(XL,YT,colorsRB,layersA,null,'(a) ERA-I');
mainChart(XR,YT,colorsRB,layersB,null,'(b) poor_mean');
mainChart(XL,YB,colorsRB,layersC,null,'(c) good_mean');
mainChart(XR,YB,colorsBWR,layersD,D_dots,'(d) good_mean-poor_mean');
const m6=[-3,0,3,6],n6=[-4,-2,2,4],m3=[-3,-2,-1,0,1,2,3],n3=[-2.5,-1.5,-.5,.5,1.5,2.5];
profileChart(XL+PW,YT,profLevA,profValA,-4,7,m6,n6);
profileChart(XR+PW,YT,profLevB,profValB,-4,7,m6,n6);
profileChart(XL+PW,YB,profLevC,profValC,-4,7,m6,n6);
profileChart(XR+PW,YB,profLevD,profValD,-3.2,3.2,m3,n3);
colorBar(160,922,colorsRB,barLabels6);
colorBar(1792,922,colorsRB,barLabels6);
colorBar(160,2004,colorsRB,barLabels6);
colorBar(1792,2004,colorsBWR,barLabels3);
</script></body></html>
